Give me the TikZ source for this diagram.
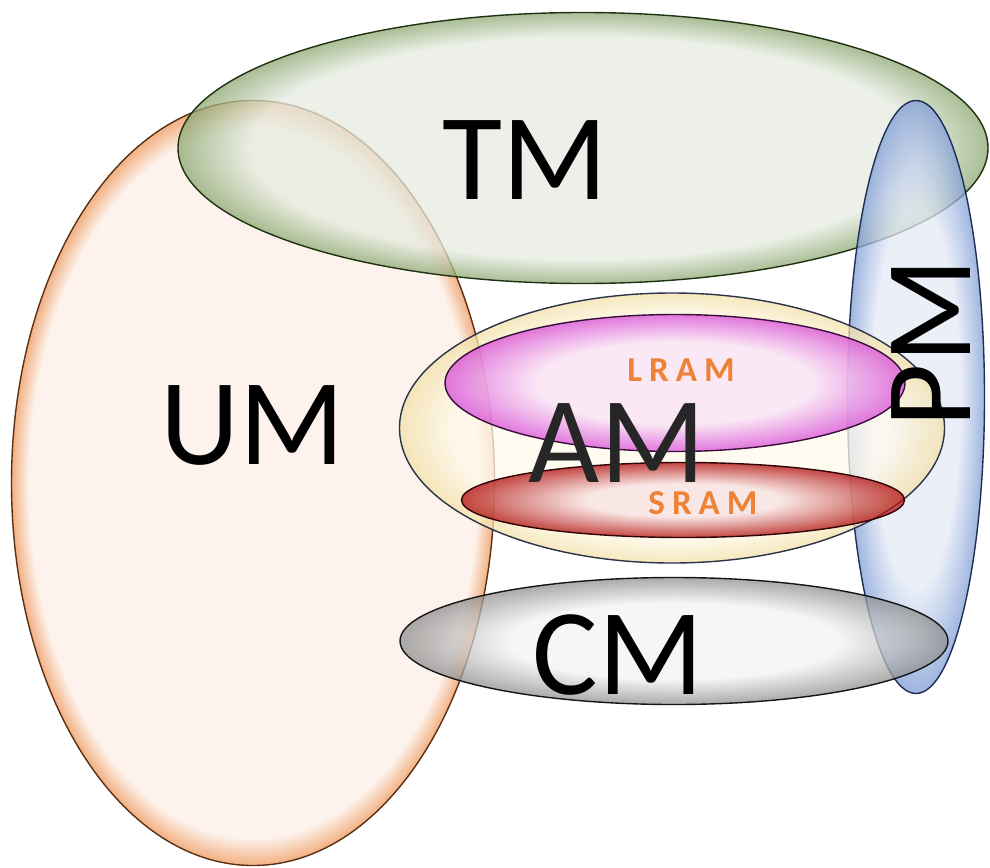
\documentclass[tikz,border=0pt]{standalone}
\usepackage{fontspec}
\setmainfont{Carlito}
\usetikzlibrary{shapes.geometric}
\definecolor{umin}{HTML}{FCEFE6}
\definecolor{umout}{HTML}{EE9A60}
\definecolor{umline}{HTML}{5A3012}
\definecolor{tmin}{HTML}{E6EBE0}
\definecolor{tmout}{HTML}{8CA872}
\definecolor{tmline}{HTML}{1E3212}
\definecolor{pmin}{HTML}{E4EAF6}
\definecolor{pmout}{HTML}{7F9DD6}
\definecolor{pmline}{HTML}{1E2E55}
\definecolor{amin}{HTML}{FFFAEC}
\definecolor{amout}{HTML}{F3E0A8}
\definecolor{amline}{HTML}{2A3348}
\definecolor{lrin}{HTML}{F9E2F7}
\definecolor{lrout}{HTML}{D84CD8}
\definecolor{lrline}{HTML}{3A0E3A}
\definecolor{srin}{HTML}{F7E0E0}
\definecolor{srout}{HTML}{B00C0C}
\definecolor{srline}{HTML}{300404}
\definecolor{cmin}{HTML}{F3F3F3}
\definecolor{cmout}{HTML}{8E8E8E}
\definecolor{cmline}{HTML}{151515}
\definecolor{ramtext}{HTML}{EE8236}
\pgfdeclareradialshading{umshade}{\pgfpoint{0bp}{0bp}}{color(0bp)=(umin); color(23.2bp)=(umin); color(24.9bp)=(umout); color(50bp)=(umout)}
\pgfdeclareradialshading{tmshade}{\pgfpoint{0bp}{0bp}}{color(0bp)=(tmin); color(20.5bp)=(tmin); color(25bp)=(tmout); color(50bp)=(tmout)}
\pgfdeclareradialshading{pmshade}{\pgfpoint{0bp}{0bp}}{color(0bp)=(pmin); color(16bp)=(pmin); color(25bp)=(pmout); color(50bp)=(pmout)}
\pgfdeclareradialshading{amshade}{\pgfpoint{0bp}{0bp}}{color(0bp)=(amin); color(20bp)=(amin); color(25bp)=(amout); color(50bp)=(amout)}
\pgfdeclareradialshading{lrshade}{\pgfpoint{0bp}{0bp}}{color(0bp)=(lrin); color(15bp)=(lrin); color(25bp)=(lrout); color(50bp)=(lrout)}
\pgfdeclareradialshading{srshade}{\pgfpoint{0bp}{0bp}}{color(0bp)=(srin); color(11bp)=(srin); color(25bp)=(srout); color(50bp)=(srout)}
\pgfdeclareradialshading{cmshade}{\pgfpoint{0bp}{0bp}}{color(0bp)=(cmin); color(15bp)=(cmin); color(25bp)=(cmout); color(50bp)=(cmout)}
\tikzset{
  blob/.style={ellipse, inner sep=0pt, outer sep=0pt, line width=1.4pt, fill opacity=0.75},
  biglabel/.style={inner sep=0pt, text=black, font=\fontsize{123}{130}\selectfont},
  ramlabel/.style={inner sep=0pt, text=ramtext, font=\fontsize{35}{40}\selectfont\bfseries\addfontfeature{LetterSpace=20}}
}
\begin{document}
\begin{tikzpicture}[x=1pt,y=-1pt]
\useasboundingbox (0,0) rectangle (990,867);
\node[blob, draw=umline, shading=umshade, minimum width=483pt, minimum height=765pt] (um) at (253,483) {};
\node[blob, draw=tmline, shading=tmshade, minimum width=810pt, minimum height=271pt] (tm) at (583,148) {};
\node[blob, draw=pmline, shading=pmshade, minimum width=137pt, minimum height=593pt] (pm) at (916,397) {};
\node[blob, draw=amline, shading=amshade, minimum width=545pt, minimum height=270pt] (am) at (672,428) {};
\node[blob, draw=lrline, shading=lrshade, minimum width=460pt, minimum height=137pt] (lram) at (675,383) {};
\node[blob, draw=srline, shading=srshade, minimum width=443pt, minimum height=75pt] (sram) at (683,500) {};
\node[blob, draw=cmline, shading=cmshade, minimum width=548pt, minimum height=127pt] (cm) at (674,641) {};
\node[biglabel, text=black!85] (amt) at (617,443) {AM};
\node[biglabel, rotate=90] (pmt) at (931,343) {PM};
\node[biglabel] (tmt) at (525,160) {TM};
\node[biglabel] (umt) at (253,425) {UM};
\node[biglabel] (cmt) at (618,655) {CM};
\node[ramlabel] (lrt) at (681,370) {LRAM};
\node[ramlabel] (srt) at (703,503) {SRAM};
\end{tikzpicture}
\end{document}
